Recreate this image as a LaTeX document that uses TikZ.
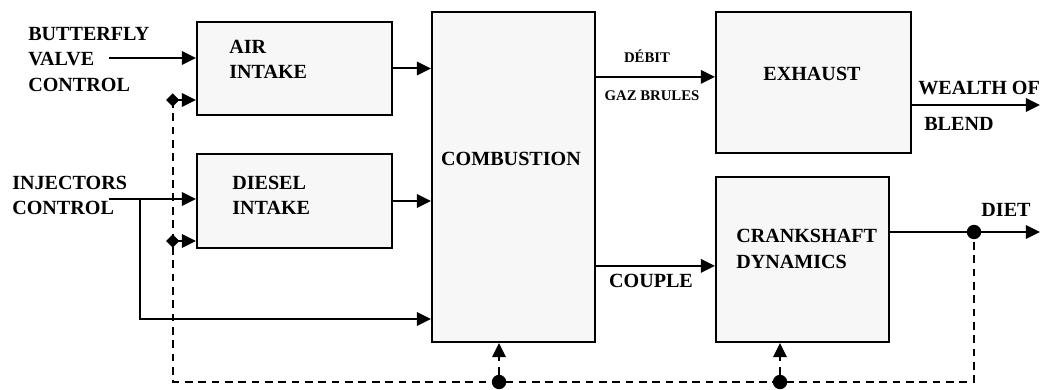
\documentclass[tikz,border=0pt]{standalone}
\usepackage{fontspec}
\setmainfont{Liberation Serif}
\usepackage{tikz}
\usetikzlibrary{arrows.meta,positioning,calc}
\definecolor{pale}{HTML}{F7F7F7}

\begin{document}
\begin{tikzpicture}[x=0.25mm, y=-0.25mm, every node/.style={font=\bfseries\fontsize{14.3}{18}\selectfont, inner sep=0pt}, box/.style={draw, line width=1.4pt, fill=pale, anchor=north west}, small/.style={font=\bfseries\fontsize{10.5}{12}\selectfont}, arr/.style={-{Triangle[length=10pt,width=9.5pt]}, line width=1.4pt}, darr/.style={{Diamond[length=9.5pt,width=9.5pt]}-{Triangle[length=10pt,width=9.5pt]}, line width=1.4pt}, fb/.style={line width=1.4pt, dash pattern=on 5.5pt off 4pt}, fbarr/.style={fb, -{Triangle[length=10pt,width=9.5pt]}}, dot/.style={circle, fill, minimum size=3.6mm}]
\useasboundingbox (0,0) rectangle (1041,390);
\node[box, minimum width=48.75mm, minimum height=23.25mm] (air) at (196,21) {};
\node[box, minimum width=48.75mm, minimum height=23.5mm] (diesel) at (196,153) {};
\node[box, minimum width=40.75mm, minimum height=82.5mm] (comb) at (431,11) {};
\node[box, minimum width=48.75mm, minimum height=35.25mm] (exh) at (715,11) {};
\node[box, minimum width=43.25mm, minimum height=41.25mm] (crank) at (715,176) {};
% box texts
\node[anchor=west, align=left] (airtxt) at (229,59.5) {AIR\\INTAKE};
\node[anchor=west, align=left] (dsltxt) at (232,195) {DIESEL\\INTAKE};
\node (combtxt) at (511,159) {COMBUSTION};
\node (exhtxt) at (812,74) {EXHAUST};
\node[anchor=west, align=left] (cranktxt) at (736,249) {CRANKSHAFT\\DYNAMICS};
% inputs
\node[anchor=west, align=left] (bfvtxt) at (28,59.5) {BUTTERFLY\\VALVE\\CONTROL};
\node[anchor=west, align=left] (injtxt) at (12,195.5) {INJECTORS\\CONTROL};
\coordinate (bfv) at (109,58);
\coordinate (inj) at (109,199);
\coordinate (br) at (140,199);
\draw[arr] (bfv) -- (bfv -| air.west);
\draw[arr] (inj) -- (inj -| diesel.west);
\draw[arr] (br) |- ([yshift=6mm]comb.south west);
\draw[arr] (air.east) -- (air.east -| comb.west);
\draw[arr] (diesel.east) -- (diesel.east -| comb.west);
% outputs
\coordinate (gas) at ([yshift=1.4mm]exh.west);
\coordinate (torque) at ([yshift=-1.6mm]crank.west);
\draw[arr] (gas -| comb.east) -- (gas);
\draw[arr] (torque -| comb.east) -- (torque);
\node[small] (debit) at (647,56) {DÉBIT};
\node[small] (gaz) at (652,96) {GAZ BRULES};
\node (couple) at (651,281) {COUPLE};
\coordinate (wealth) at (1040,105);
\coordinate (diet) at (1040,232);
\draw[arr] (wealth -| exh.east) -- (wealth);
\node[anchor=west] (wealthtxt) at (918,88) {WEALTH OF};
\node[anchor=west] (blend) at (924,124) {BLEND};
\node[dot] (ddiet) at (974,232) {};
\draw[arr] (diet -| crank.east) -- (diet);
\node (diettxt) at (1006,210) {DIET};
% feedback
\coordinate (fbtop) at (173,100);
\coordinate (fbmid) at (173,241);
\coordinate (fbcorner) at (173,382);
\node[dot] (dcomb) at (499,382) {};
\node[dot] (dcrank) at (780,382) {};
\draw[fb] (fbtop) -- (fbcorner) -- (fbcorner -| ddiet) -- (ddiet);
\draw[darr] ([xshift=-1.75mm]fbtop) -- (fbtop -| air.west);
\draw[darr] ([xshift=-1.75mm]fbmid) -- (fbmid -| diesel.west);
\draw[fbarr] (dcomb) -- (dcomb |- comb.south);
\draw[fbarr] (dcrank) -- (dcrank |- crank.south);
\end{tikzpicture}
\end{document}
